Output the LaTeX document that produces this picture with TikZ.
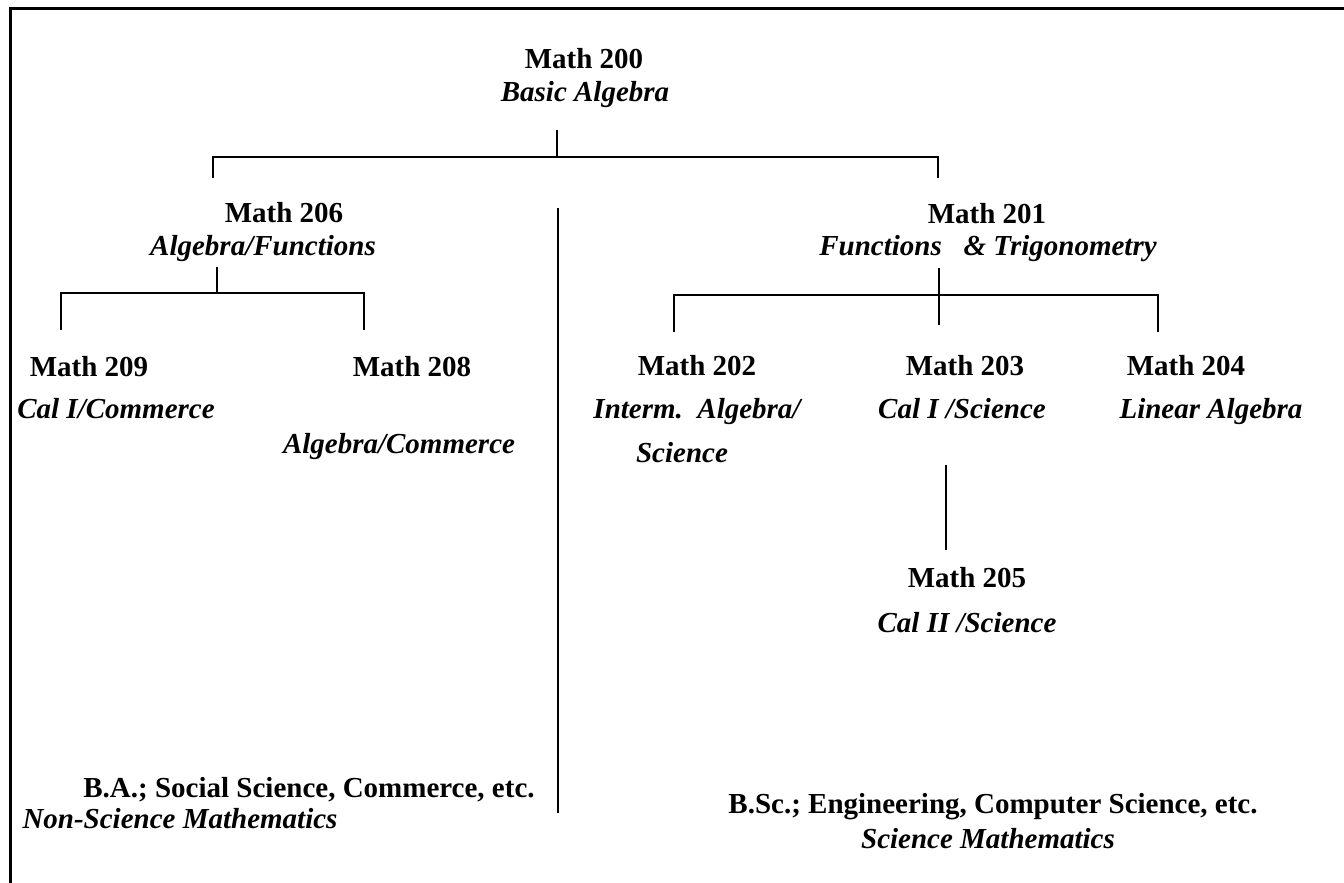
\documentclass[tikz,border=0pt]{standalone}
\usepackage{fontspec}
\setmainfont{Liberation Serif}
\usepackage{tikz}
\usetikzlibrary{calc,positioning}

\begin{document}
\begin{tikzpicture}[x=1pt, y=-1pt,
        course/.style={anchor=base, inner sep=0pt, font=\fontsize{29}{34}\selectfont\bfseries},
        topic/.style={anchor=base, inner sep=0pt, font=\fontsize{29}{34}\selectfont\bfseries\itshape},
        link/.style={line width=2pt},
        frame/.style={line width=3pt}
    ]
    \useasboundingbox (0,0) rectangle (1344,883);
    \coordinate (fb) at (10,883);
    \coordinate (fc) at (10,9);
    \coordinate (fr) at (1344,9);
    \draw[frame] (fb) -- (fc) -- (fr);

    \node[course] (m200) at (584,69) {Math 200};
    \node[topic] (m200t) at (585,102) {Basic Algebra};

    \node[course] (m206) at (284,222) {Math 206};
    \node[topic] (m206t) at (263,255) {Algebra/Functions};
    \node[course] (m201) at (987,223) {Math 201};
    \node[topic] (m201t) at (988,255) {Functions\ \ \ \& Trigonometry};

    \node[course] (m209) at (89,376) {Math 209};
    \node[topic] (m209t) at (116,418) {Cal I/Commerce};
    \node[course] (m208) at (412,376) {Math 208};
    \node[topic] (m208t) at (399,453) {Algebra/Commerce};

    \node[course] (m202) at (697,375) {Math 202};
    \node[topic] (m202t) at (697,418) {Interm.\ \ Algebra/};
    \node[topic] (m202s) at (682,462) {Science};
    \node[course] (m203) at (965,375) {Math 203};
    \node[topic] (m203t) at (962,418) {Cal I /Science};
    \node[course] (m204) at (1186,375) {Math 204};
    \node[topic] (m204t) at (1211,418) {Linear Algebra};
    \node[course] (m205) at (967,587) {Math 205};
    \node[topic] (m205t) at (967,632) {Cal II /Science};

    \node[course] (ba) at (309,797) {B.A.; Social Science, Commerce, etc.};
    \node[topic] (nsm) at (180,828) {Non-Science Mathematics};
    \node[course] (bsc) at (993,813) {B.Sc.; Engineering, Computer Science, etc.};
    \node[topic] (sm) at (988,848) {Science Mathematics};

    % brackets
    \coordinate (s200) at (557,130);
    \coordinate (l200) at (213,157);
    \coordinate (r200) at (938,157);
    \draw[link] (s200) -- (s200 |- l200);
    \draw[link] (l200 |- 0,178) -- (l200) -- (r200) -- (r200 |- 0,178);

    \coordinate (s206) at (217,267);
    \coordinate (l206) at (61,293);
    \coordinate (r206) at (364,293);
    \draw[link] (s206) -- (s206 |- l206);
    \draw[link] (l206 |- 0,330) -- (l206) -- (r206) -- (r206 |- 0,330);

    \coordinate (s201) at (939,268);
    \coordinate (e201) at (939,325);
    \coordinate (l201) at (674,295);
    \coordinate (r201) at (1158,295);
    \draw[link] (s201) -- (e201);
    \draw[link] (l201 |- 0,332) -- (l201) -- (r201) -- (r201 |- 0,332);

    \coordinate (s203) at (946,465);
    \coordinate (e203) at (946,550);
    \draw[link] (s203) -- (e203);

    \coordinate (dtop) at (558,208);
    \coordinate (dbot) at (558,813);
    \draw[link] (dtop) -- (dbot);
\end{tikzpicture}
\end{document}
